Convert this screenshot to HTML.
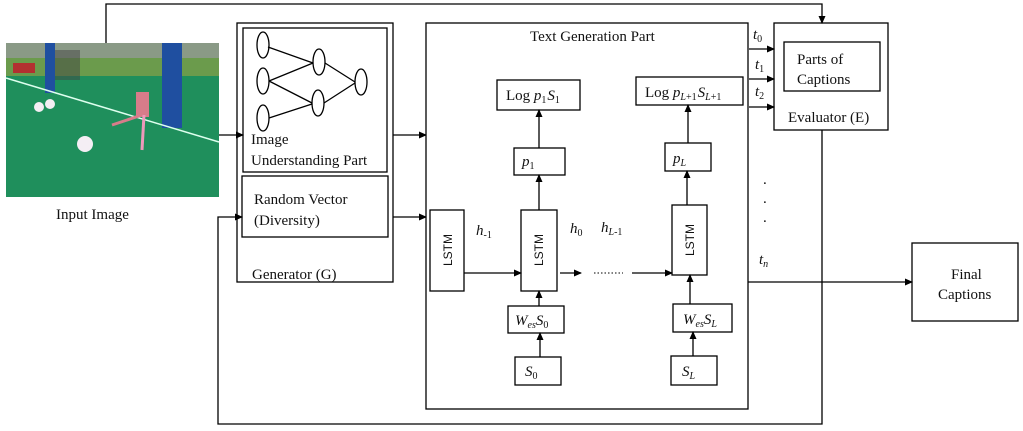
<!DOCTYPE html>
<html><head><meta charset="utf-8"><style>
body{margin:0;background:#fff}
svg{display:block}
text{font-family:"Liberation Serif",serif;font-size:15px;fill:#111}
.i{font-style:italic}
.s{font-family:"Liberation Sans",sans-serif;font-size:12px}
.b{font-size:10px;baseline-shift:-3px}
</style></head><body>
<svg width="1023" height="431" viewBox="0 0 1023 431" xmlns="http://www.w3.org/2000/svg">
<defs><marker id="a" markerWidth="8" markerHeight="8" refX="7" refY="4" orient="auto" markerUnits="userSpaceOnUse"><path d="M0,0.5 L8,4 L0,7.5z" fill="#000"/></marker></defs>
<rect x="6" y="43" width="213" height="154" fill="#1f8f5c"/>
<rect x="6" y="43" width="213" height="30" fill="#8a9a86"/>
<rect x="6" y="58" width="213" height="18" fill="#6b9b4c"/>
<rect x="55" y="50" width="25" height="30" fill="#444" opacity="0.5"/>
<rect x="45" y="43" width="10" height="50" fill="#1f4fa0"/>
<rect x="162" y="43" width="20" height="85" fill="#1f4fa0"/>
<rect x="13" y="63" width="22" height="10" fill="#b23030"/>
<line x1="6" y1="78" x2="219" y2="142" stroke="#dfe" stroke-width="1.5"/>
<circle cx="85" cy="144" r="8" fill="#f4eef4"/>
<circle cx="39" cy="107" r="5" fill="#f4eef4"/>
<circle cx="50" cy="104" r="5" fill="#f4eef4"/>
<rect x="136" y="92" width="13" height="25" fill="#d77c8a"/>
<line x1="142" y1="115" x2="112" y2="125" stroke="#d77c8a" stroke-width="3"/>
<line x1="144" y1="115" x2="142" y2="150" stroke="#e9b" stroke-width="3"/>
<g fill="none" stroke="#000" stroke-width="1.3">
<polyline points="106,43 106,4 822,4 822,23" marker-end="url(#a)"/>
<line x1="219" y1="135" x2="243" y2="135" marker-end="url(#a)"/>
<rect x="237" y="23" width="156" height="259"/>
<rect x="243" y="28" width="144" height="144"/>
<rect x="242" y="176" width="146" height="61"/>
<ellipse cx="263" cy="45" rx="6" ry="13"/>
<ellipse cx="263" cy="81" rx="6" ry="13"/>
<ellipse cx="263" cy="118" rx="6" ry="13"/>
<ellipse cx="319" cy="62" rx="6" ry="13"/>
<ellipse cx="318" cy="103" rx="6" ry="13"/>
<ellipse cx="361" cy="82" rx="6" ry="13"/>
<path d="M268,47 L313,63 M269,81 L313,63 M269,81 L312,103 M269,118 L312,104 M325,63 L355,82 M324,103 L355,83"/>
<line x1="393" y1="135" x2="426" y2="135" marker-end="url(#a)"/>
<line x1="393" y1="217" x2="426" y2="217" marker-end="url(#a)"/>
<polyline points="822,130 822,424 218,424 218,217 242,217" marker-end="url(#a)"/>
<rect x="426" y="23" width="322" height="386" fill="#fff"/>
<rect x="430" y="210" width="34" height="81"/>
<rect x="521" y="210" width="36" height="81"/>
<rect x="514" y="148" width="51" height="27"/>
<rect x="497" y="80" width="83" height="30"/>
<rect x="508" y="306" width="56" height="27"/>
<rect x="515" y="357" width="46" height="28"/>
<rect x="672" y="205" width="35" height="70"/>
<rect x="665" y="143" width="46" height="28"/>
<rect x="636" y="77" width="107" height="28"/>
<rect x="673" y="304" width="59" height="28"/>
<rect x="671" y="356" width="46" height="29"/>
<line x1="464" y1="273" x2="521" y2="273" marker-end="url(#a)"/>
<line x1="560" y1="273" x2="581" y2="273" marker-end="url(#a)"/>
<line x1="632" y1="273" x2="672" y2="273" marker-end="url(#a)"/>
<line x1="539" y1="210" x2="539" y2="175" marker-end="url(#a)"/>
<line x1="539" y1="148" x2="539" y2="110" marker-end="url(#a)"/>
<line x1="539" y1="306" x2="539" y2="291" marker-end="url(#a)"/>
<line x1="540" y1="357" x2="540" y2="333" marker-end="url(#a)"/>
<line x1="687" y1="205" x2="687" y2="171" marker-end="url(#a)"/>
<line x1="688" y1="143" x2="688" y2="105" marker-end="url(#a)"/>
<line x1="690" y1="304" x2="690" y2="275" marker-end="url(#a)"/>
<line x1="693" y1="356" x2="693" y2="332" marker-end="url(#a)"/>
<rect x="774" y="23" width="114" height="107"/>
<rect x="784" y="42" width="96" height="49"/>
<line x1="749" y1="49" x2="774" y2="49" marker-end="url(#a)"/>
<line x1="749" y1="79" x2="774" y2="79" marker-end="url(#a)"/>
<line x1="749" y1="107" x2="774" y2="107" marker-end="url(#a)"/>
<line x1="748" y1="282" x2="912" y2="282" marker-end="url(#a)"/>
<rect x="912" y="243" width="106" height="78"/>
</g>
<line x1="594" y1="273" x2="623" y2="273" stroke="#000" stroke-dasharray="1.5,2"/>
<text x="56" y="219">Input  Image</text>
<text x="251" y="144">Image</text>
<text x="251" y="165">Understanding  Part</text>
<text x="254" y="204">Random  Vector</text>
<text x="254" y="225">(Diversity)</text>
<text x="252" y="279">Generator  (G)</text>
<text x="530" y="41">Text  Generation  Part</text>
<text x="797" y="64">Parts of</text>
<text x="797" y="84">Captions</text>
<text x="788" y="122">Evaluator  (E)</text>
<text x="951" y="279">Final</text>
<text x="938" y="299">Captions</text>
<text x="506" y="100">Log <tspan class="i">p</tspan><tspan class="b">1</tspan><tspan class="i" dx="1">S</tspan><tspan class="b">1</tspan></text>
<text x="645" y="97">Log <tspan class="i">p</tspan><tspan class="b"><tspan class="i">L</tspan>+1</tspan><tspan class="i" dx="1">S</tspan><tspan class="b"><tspan class="i">L</tspan>+1</tspan></text>
<text x="522" y="166"><tspan class="i">p</tspan><tspan class="b">1</tspan></text>
<text x="673" y="163"><tspan class="i">p</tspan><tspan class="b i">L</tspan></text>
<text x="515" y="325"><tspan class="i">W</tspan><tspan class="b i">es</tspan><tspan class="i">S</tspan><tspan class="b">0</tspan></text>
<text x="683" y="324"><tspan class="i">W</tspan><tspan class="b i">es</tspan><tspan class="i">S</tspan><tspan class="b i">L</tspan></text>
<text x="525" y="376"><tspan class="i">S</tspan><tspan class="b">0</tspan></text>
<text x="682" y="376"><tspan class="i">S</tspan><tspan class="b i">L</tspan></text>
<text x="476" y="235"><tspan class="i">h</tspan><tspan class="b">-1</tspan></text>
<text x="570" y="233"><tspan class="i">h</tspan><tspan class="b">0</tspan></text>
<text x="601" y="232"><tspan class="i">h</tspan><tspan class="b"><tspan class="i">L</tspan>-1</tspan></text>
<text x="753" y="39"><tspan class="i">t</tspan><tspan class="b">0</tspan></text>
<text x="755" y="69"><tspan class="i">t</tspan><tspan class="b">1</tspan></text>
<text x="755" y="96"><tspan class="i">t</tspan><tspan class="b">2</tspan></text>
<text x="759" y="264"><tspan class="i">t</tspan><tspan class="b i">n</tspan></text>
<text x="763" y="184" font-size="10">.</text>
<text x="763" y="203" font-size="10">.</text>
<text x="763" y="222" font-size="10">.</text>
<text class="s" transform="translate(452,250) rotate(-90)" text-anchor="middle">LSTM</text>
<text class="s" transform="translate(543,250) rotate(-90)" text-anchor="middle">LSTM</text>
<text class="s" transform="translate(694,240) rotate(-90)" text-anchor="middle">LSTM</text>
</svg>
</body></html>
